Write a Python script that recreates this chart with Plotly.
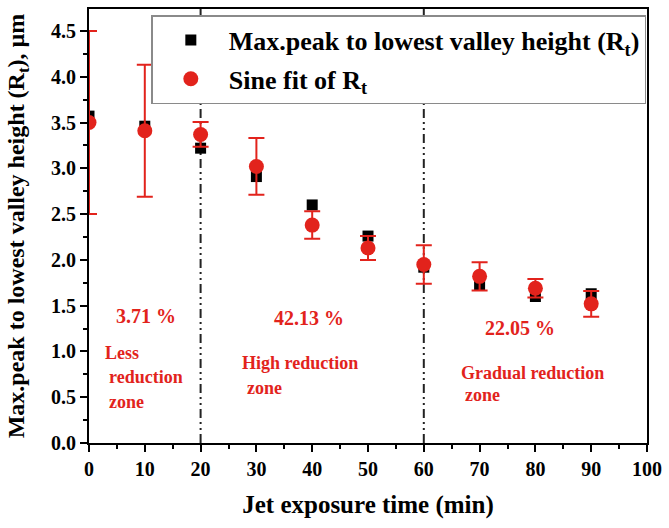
import plotly.graph_objects as go

# Jet exposure time (min)
time_min = [0, 10, 20, 30, 40, 50, 60, 70, 80, 90]

# Measured max. peak to lowest valley height Rt (µm)
rt_measured = [3.57, 3.46, 3.22, 2.91, 2.60, 2.26, 1.92, 1.72, 1.60, 1.63]

# Sine fit of Rt (µm) and its error
rt_sine_fit = [3.50, 3.41, 3.37, 3.02, 2.38, 2.13, 1.95, 1.82, 1.69, 1.52]
rt_fit_err = [1.00, 0.72, 0.135, 0.31, 0.15, 0.13, 0.21, 0.155, 0.10, 0.14]

# Zone boundaries (min)
zone_bounds = [20, 60]

# Zone annotations: reduction percentages and zone labels
zone_pct = ["3.71 %", "42.13 %", "22.05 %"]

RED = "#e2231c"
FONT = "Liberation Serif"

fig = go.Figure()

fig.add_trace(go.Scatter(
    x=time_min, y=rt_measured, mode="markers",
    name="<b>Max.peak to lowest valley height (R<sub>t</sub>)</b>",
    legendgroup="a",
    marker=dict(symbol="square", size=11, color="black"),
))

fig.add_trace(go.Scatter(
    x=time_min, y=rt_sine_fit, mode="markers",
    name="<b>Sine fit of R<sub>t</sub></b>",
    legendgroup="b",
    marker=dict(symbol="circle", size=15, color=RED),
    error_y=dict(type="data", array=rt_fit_err, visible=True,
                 color=RED, thickness=2, width=8),
))

# Dash-dot-dot boundary lines between zones
for xb in zone_bounds:
    fig.add_shape(type="line", xref="x", yref="paper",
                  x0=xb, x1=xb, y0=0, y1=1,
                  line=dict(color="#222222", width=2,
                            dash="9px,4px,2px,4px,2px,4px"),
                  layer="below")

ann_font = dict(family=FONT, size=18, color=RED)
pct_font = dict(family=FONT, size=20, color=RED)

# Percentages (centred)
pct_pos = [(10.3, 1.39), (39.4, 1.36), (77.3, 1.26)]
for txt, (ax, ay) in zip(zone_pct, pct_pos):
    fig.add_annotation(x=ax, y=ay, xref="x", yref="y", text=f"<b>{txt}</b>",
                       showarrow=False, font=pct_font,
                       xanchor="center", yanchor="middle")

# Zone labels (left aligned lines)
zone_lines = [
    ("Less", 2.5, 0.98), ("reduction", 3.2, 0.72), ("zone", 3.2, 0.45),
    ("High reduction", 27.1, 0.87), ("zone", 28.0, 0.60),
    ("Gradual reduction", 66.3, 0.77), ("zone", 67.0, 0.52),
]
for txt, ax, ay in zone_lines:
    fig.add_annotation(x=ax, y=ay, xref="x", yref="y", text=f"<b>{txt}</b>",
                       showarrow=False, font=ann_font,
                       xanchor="left", yanchor="middle")

axis_common = dict(
    showline=True, linecolor="black", linewidth=2, mirror=True,
    ticks="outside", ticklen=7, tickwidth=2, tickcolor="black",
    showgrid=False, zeroline=False,
    tickfont=dict(family=FONT, size=20, color="black", weight="bold"),
)

fig.update_xaxes(
    range=[0, 100], dtick=10, tick0=0,
    minor=dict(ticks="outside", ticklen=4, tickwidth=2, dtick=5,
               tickcolor="black", showgrid=False),
    title=dict(text="<b>Jet exposure time (min)</b>",
               font=dict(family=FONT, size=25, color="black"), standoff=16),
    **axis_common,
)
fig.update_yaxes(
    range=[0, 4.74], dtick=0.5, tick0=0, tickformat=".1f",
    minor=dict(ticks="outside", ticklen=4, tickwidth=2, dtick=0.25,
               tickcolor="black", showgrid=False),
    title=dict(text="<b>Max.peak to lowest valley height (R<sub>t</sub>), µm</b>",
               font=dict(family=FONT, size=24, color="black"), standoff=20),
    **axis_common,
)

fig.update_layout(
    width=669, height=528,
    margin=dict(l=89, r=16, t=7, b=85),
    plot_bgcolor="white", paper_bgcolor="white",
    showlegend=True,
    legend=dict(
        x=0.1117, y=0.986, xanchor="left", yanchor="top",
        bgcolor="white", bordercolor="#8a8a8a", borderwidth=1.5,
        font=dict(family=FONT, size=26, color="black"),
        traceorder="grouped", tracegroupgap=2,
        itemsizing="trace", itemwidth=66,
    ),
)

fig.write_html("out.html")
